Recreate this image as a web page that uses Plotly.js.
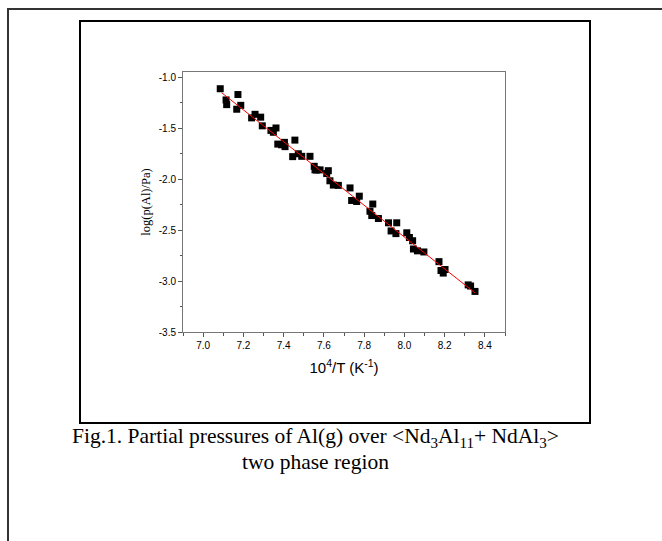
<!DOCTYPE html>
<html>
<head>
<meta charset="utf-8">
<script src="https://cdn.plot.ly/plotly-3.0.1.min.js"></script>
<style>html,body{margin:0;padding:0;background:#fff;}#chart{width:662px;height:541px;}</style>
</head>
<body>
<div id="chart"></div>
<script>
// Measured points: 10^4/T (K^-1) and log(p(Al)/Pa)
const invT = [7.085,7.114,7.117,7.173,7.167,7.187,7.241,7.258,7.286,7.294,7.337,7.362,7.349,7.371,7.390,7.407,7.404,7.456,7.445,7.473,7.490,7.531,7.552,7.564,7.556,7.581,7.622,7.614,7.630,7.647,7.672,7.730,7.738,7.776,7.763,7.843,7.829,7.838,7.871,7.921,7.962,7.934,7.958,8.012,8.025,8.041,8.045,8.065,8.097,8.172,8.182,8.202,8.193,8.317,8.329,8.351];
const logP = [-1.114,-1.224,-1.270,-1.171,-1.315,-1.277,-1.400,-1.365,-1.393,-1.478,-1.523,-1.499,-1.541,-1.657,-1.664,-1.682,-1.640,-1.618,-1.780,-1.752,-1.777,-1.777,-1.875,-1.911,-1.910,-1.910,-1.918,-1.946,-2.017,-2.059,-2.062,-2.087,-2.210,-2.168,-2.220,-2.245,-2.316,-2.358,-2.387,-2.429,-2.429,-2.509,-2.535,-2.527,-2.573,-2.605,-2.686,-2.704,-2.715,-2.810,-2.897,-2.887,-2.922,-3.038,-3.049,-3.102];
// Fitted line end points
const fitX = [7.092, 8.351];
const fitY = [-1.153, -3.116];
const xTicks = [7.0,7.2,7.4,7.6,7.8,8.0,8.2,8.4];
const yTicks = [-3.5,-3.0,-2.5,-2.0,-1.5,-1.0];

const traces = [
  {x: invT, y: logP, type: 'scatter', mode: 'markers',
   marker: {symbol: 'square', size: 7, color: '#000'}, hoverinfo: 'skip'},
  {x: fitX, y: fitY, type: 'scatter', mode: 'lines',
   line: {color: '#ff0000', width: 1}, hoverinfo: 'skip'}
];

// plot area: left 183, right 505, top 72, bottom 332 (pixels)
const L = 183, R = 505, T = 72, B = 332;
const W = R - L, H = B - T;
const px = v => (v - L) / W;
const py = v => (B - v) / H;

const layout = {
  width: 662, height: 541,
  margin: {l: L, r: 662 - R, t: T, b: 541 - B, pad: 0},
  paper_bgcolor: '#fff', plot_bgcolor: '#fff',
  showlegend: false,
  font: {family: 'Liberation Sans, Arial, sans-serif', color: '#000', size: 10},
  xaxis: {
    range: [6.9, 8.5], tickvals: xTicks, ticktext: xTicks.map(v => v.toFixed(1)),
    ticks: 'outside', ticklen: 4, tickwidth: 1, tickcolor: '#555',
    minor: {dtick: 0.1, ticks: 'outside', ticklen: 2.5, tickcolor: '#555'},
    showline: true, linecolor: '#777', linewidth: 1, mirror: true,
    showgrid: false, zeroline: false,
    tickfont: {size: 10, family: 'Liberation Sans, Arial, sans-serif'},
    title: {text: '10<sup>4</sup>/T (K<sup>-1</sup>)', standoff: 12,
            font: {size: 15, family: 'Liberation Sans, Arial, sans-serif'}}
  },
  yaxis: {
    range: [-3.5, -0.95], tickvals: yTicks, ticktext: yTicks.map(v => v.toFixed(1)),
    ticks: 'outside', ticklen: 4, tickwidth: 1, tickcolor: '#555',
    minor: {dtick: 0.25, ticks: 'outside', ticklen: 2.5, tickcolor: '#555'},
    showline: true, linecolor: '#777', linewidth: 1, mirror: true,
    showgrid: false, zeroline: false,
    tickfont: {size: 10, family: 'Liberation Sans, Arial, sans-serif'},
    title: {text: 'log(p(Al)/Pa)', standoff: 5,
            font: {size: 12.5, family: 'Liberation Serif, Times New Roman, serif'}}
  },
  shapes: [
    {type: 'rect', xref: 'paper', yref: 'paper',
     x0: px(8), x1: px(680), y0: py(560), y1: py(9),
     line: {color: '#333', width: 2}, fillcolor: 'rgba(0,0,0,0)'},
    {type: 'rect', xref: 'paper', yref: 'paper',
     x0: px(80), x1: px(590), y0: py(423), y1: py(21),
     line: {color: '#000', width: 2}, fillcolor: 'rgba(0,0,0,0)'}
  ],
  annotations: [
    {xref: 'paper', yref: 'paper', x: px(315), y: py(438), xanchor: 'center', yanchor: 'middle',
     showarrow: false,
     text: 'Fig.1. Partial pressures of Al(g) over &lt;Nd<sub>3</sub>Al<sub>11</sub>+ NdAl<sub>3</sub>&gt;',
     font: {size: 21.5, family: 'Liberation Serif, Times New Roman, serif', color: '#000'}},
    {xref: 'paper', yref: 'paper', x: px(315), y: py(462), xanchor: 'center', yanchor: 'middle',
     showarrow: false, text: 'two phase region',
     font: {size: 21.5, family: 'Liberation Serif, Times New Roman, serif', color: '#000'}}
  ]
};

Plotly.newPlot('chart', traces, layout, {staticPlot: true, displayModeBar: false});
</script>
</body>
</html>
